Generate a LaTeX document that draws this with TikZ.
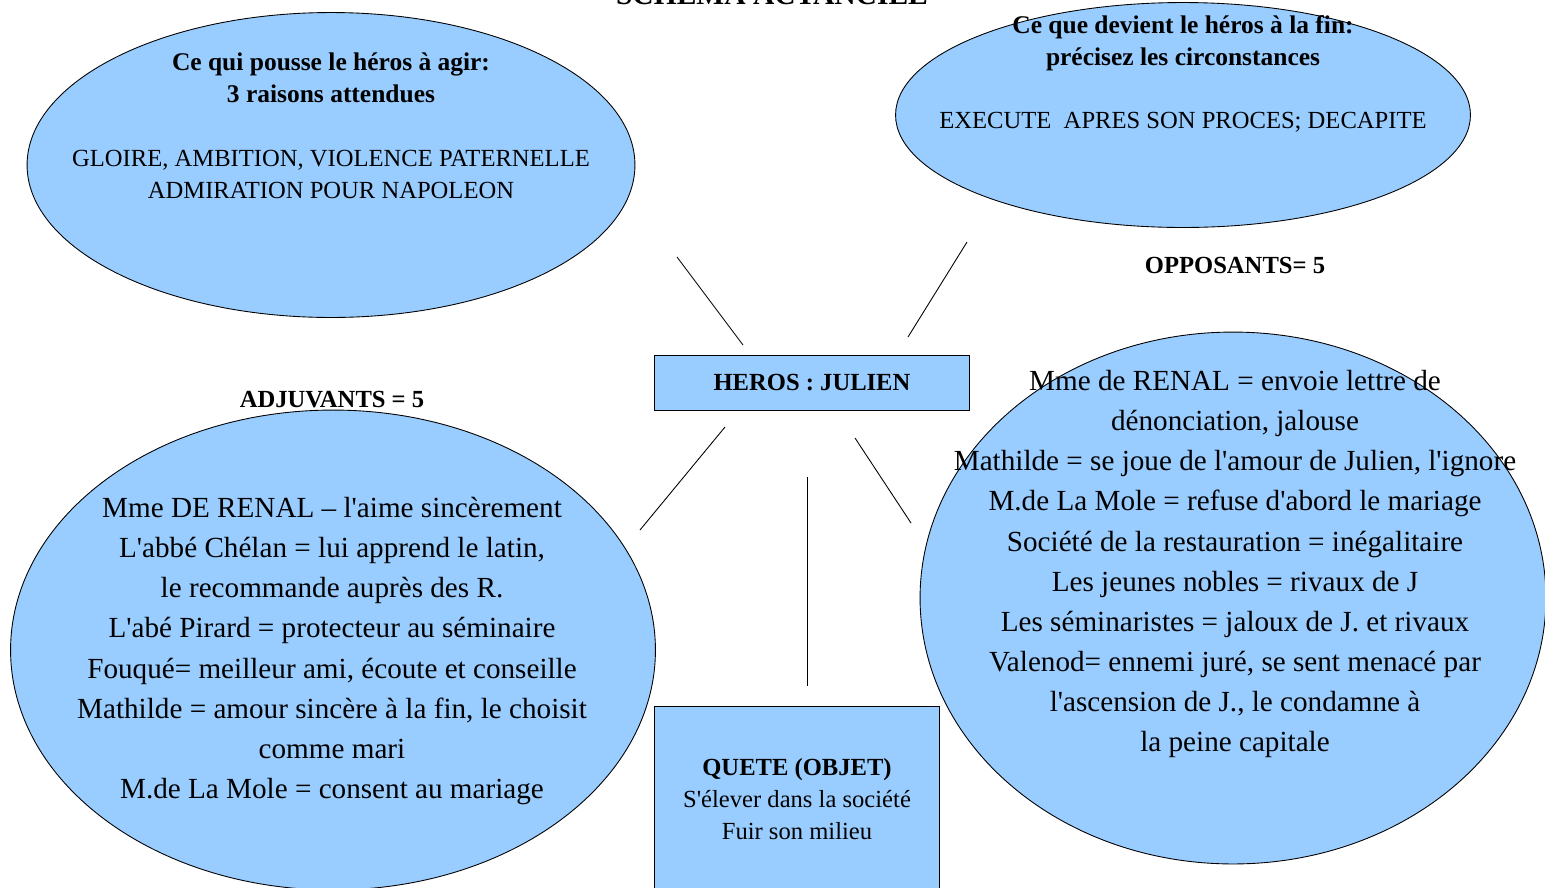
\documentclass[tikz,border=0pt]{standalone}
\usepackage{fontspec}
\setmainfont{Liberation Serif}[Ligatures=TeXOff]
\usetikzlibrary{shapes.geometric}
\definecolor{bleuciel}{HTML}{99CCFF}

\begin{document}
\begin{tikzpicture}[x=0.02cm,y=-0.02cm]
 \tikzstyle{bulle}=[ellipse,draw,fill=bleuciel,inner sep=0pt,line width=0.5pt]
 \tikzstyle{cadre}=[rectangle,draw,fill=bleuciel,inner sep=0pt,line width=0.5pt,align=center]
 \tikzstyle{gras}=[font=\bfseries\fontsize{14.5}{18.2}\selectfont,align=center,inner sep=0pt]
 \tikzstyle{texte}=[font=\fontsize{14}{18.2}\selectfont,align=center,inner sep=0pt]
 \tikzstyle{liste}=[font=\fontsize{16.6}{22.8}\selectfont,align=center,inner sep=0pt]
 \tikzstyle{trait}=[line width=0.5pt]
 \useasboundingbox (0,0) rectangle (1545,887);
 %
 \node[gras, anchor=base, font=\bfseries\fontsize{16.8}{20}\selectfont] (schema) at (772,4) {SCHEMA ACTANCIEL};
 %
 \node[bulle, minimum width=12.16cm, minimum height=6.1cm] (mobile) at (331,165) {};
 \node[bulle, minimum width=11.5cm, minimum height=4.5cm] (fin) at (1183,115) {};
 \node[bulle, minimum width=12.9cm, minimum height=9.6cm] (adjuvants) at (333,650) {};
 \node[bulle, minimum width=12.52cm, minimum height=10.64cm] (opposants) at (1233,598) {};
 \node[cadre, font=\bfseries\fontsize{14}{18.2}\selectfont, minimum width=6.3cm, minimum height=1.1cm] (heros) at (812,382.5) {HEROS : JULIEN};
 \node[cadre, font=\fontsize{14}{18.2}\selectfont, minimum width=5.7cm, minimum height=3.72cm] (quete) at (797,799) {\textbf{QUETE (OBJET)}\\S'élever dans la société\\Fuir son milieu};
 %
 \node[gras] (mobileT) at (331,78) {Ce qui pousse le héros à agir:\\3 raisons attendues};
 \node[texte] (mobileR) at (331,174) {GLOIRE, AMBITION, VIOLENCE PATERNELLE\\ADMIRATION POUR NAPOLEON};
 \node[gras] (finT) at (1183,43) {Ce que devient le héros à la fin:\\précisez les circonstances};
 \node[texte] (finR) at (1183,122) {EXECUTE\ \ APRES SON PROCES; DECAPITE};
 \node[gras, font=\bfseries\fontsize{14}{18.2}\selectfont] (oppT) at (1235,265) {OPPOSANTS= 5};
 \node[gras, font=\bfseries\fontsize{14}{18.2}\selectfont] (adjT) at (332,400) {ADJUVANTS = 5};
 %
 \node[liste] (adjL) at (332,651) {Mme DE RENAL – l'aime sincèrement\\
  L'abbé Chélan = lui apprend le latin,\\
  le recommande auprès des R.\\
  L'abé Pirard = protecteur au séminaire\\
  Fouqué= meilleur ami, écoute et conseille\\
  Mathilde = amour sincère à la fin, le choisit\\
  comme mari\\
  M.de La Mole = consent au mariage};
 \node[liste] (oppL) at (1235,564) {Mme de RENAL = envoie lettre de\\
  dénonciation, jalouse\\
  Mathilde = se joue de l'amour de Julien, l'ignore\\
  M.de La Mole = refuse d'abord le mariage\\
  Société de la restauration = inégalitaire\\
  Les jeunes nobles = rivaux de J\\
  Les séminaristes = jaloux de J. et rivaux\\
  Valenod= ennemi juré, se sent menacé par\\
  l'ascension de J., le condamne à\\
  la peine capitale};
 %
 \coordinate (mobA) at (677,257); \coordinate (mobB) at (743,345);
 \coordinate (finA) at (967,242); \coordinate (finB) at (908,337);
 \coordinate (adjA) at (725,427); \coordinate (adjB) at (640,530);
 \coordinate (oppA) at (855,438); \coordinate (oppB) at (911,523);
 \coordinate (queA) at (807,477); \coordinate (queB) at (807,686);
 \draw[trait] (mobA)--(mobB);
 \draw[trait] (finA)--(finB);
 \draw[trait] (adjA)--(adjB);
 \draw[trait] (oppA)--(oppB);
 \draw[trait] (queA)--(queB);
\end{tikzpicture}
\end{document}
